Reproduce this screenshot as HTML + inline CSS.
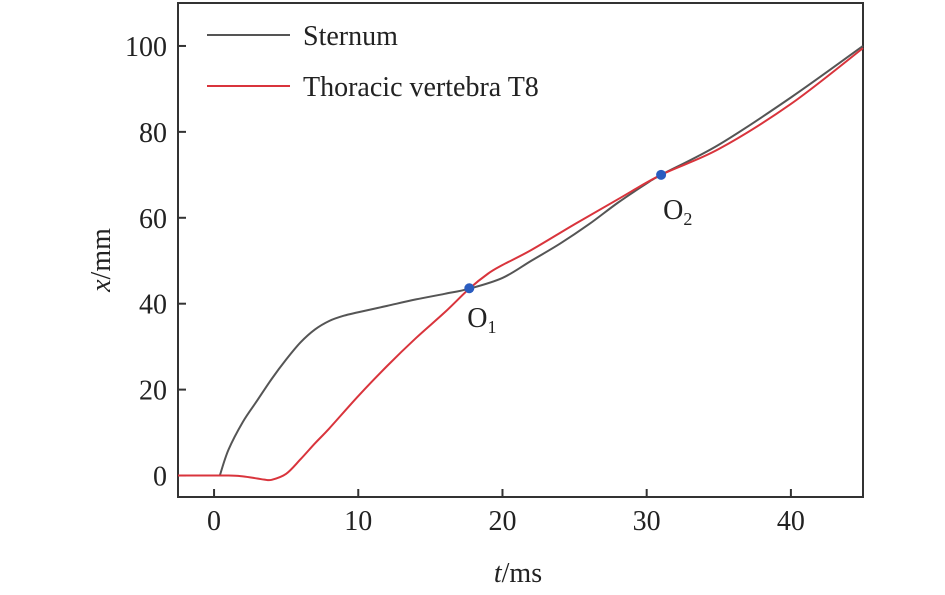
<!DOCTYPE html>
<html><head><meta charset="utf-8"><style>
body{margin:0;background:#fff}
svg text{font-family:"Liberation Serif",serif;fill:#222}
</style></head><body>
<svg width="945" height="590" xmlns="http://www.w3.org/2000/svg" id="c"></svg>
<script>
const xTicks=[0,10,20,30,40];
const yTicks=[0,20,40,60,80,100];
const sternumT=[0.4,1,2,3,4,5,6,7,8,9,10,12,14,16,17.7,20,22,24,26,28,30,31,35,40,45];
const sternumX=[0,6,12.5,17.5,22.5,27,31,34,36,37.2,38,39.5,41,42.3,43.5,46,50,54,58.5,63.5,68,70,77,88,100];
const t8T=[-2.5,1,2,3,3.5,4,5,6,7,8,10,12,14,16,17.7,19,20,22,25,28,31,35,40,45];
const t8X=[0,0,-0.2,-0.7,-0.95,-1,0.4,3.8,7.5,11,18.5,25.5,32,38,43.5,47,49,52.5,58.5,64.3,70,76,86.5,99.5];
const markT=[17.7,31], markX=[43.6,70], markLbl=["1","2"];
const X0=-2.5,X1=45,Y0=-5,Y1=110,L=178,R=863,T=3,B=497;
const sx=v=>L+(v-X0)/(X1-X0)*(R-L), sy=v=>B-(v-Y0)/(Y1-Y0)*(B-T);
const svg=document.getElementById('c');const NS="http://www.w3.org/2000/svg";
function add(tag,attrs,name,txt){const e=document.createElementNS(NS,tag);for(const k in attrs)e.setAttribute(k,attrs[k]);


if(txt!==undefined)e.textContent=txt;svg.appendChild(e);return e;}
function path(ts,xs){const p=ts.map((t,i)=>[sx(t),sy(xs[i])]);let d=`M${p[0][0]},${p[0][1]}`;
for(let i=0;i<p.length-1;i++){const a=p[Math.max(0,i-1)],b=p[i],c=p[i+1],e=p[Math.min(p.length-1,i+2)];
d+=` C${b[0]+(c[0]-a[0])/6},${b[1]+(c[1]-a[1])/6} ${c[0]-(e[0]-b[0])/6},${c[1]-(e[1]-b[1])/6} ${c[0]},${c[1]}`;}return d;}
add('rect',{x:L,y:T,width:R-L,height:B-T,fill:'none',stroke:'#333','stroke-width':2},'plot-frame');
xTicks.forEach(v=>{add('line',{x1:sx(v),x2:sx(v),y1:B,y2:B-8,stroke:'#333','stroke-width':2},'x-tick');
add('text',{x:sx(v),y:530,'font-size':28,'text-anchor':'middle'},'x-tick-label',v);});
yTicks.forEach(v=>{add('line',{x1:L,x2:L+8,y1:sy(v),y2:sy(v),stroke:'#333','stroke-width':2},'y-tick');
add('text',{x:167,y:sy(v)+10,'font-size':28,'text-anchor':'end'},'y-tick-label',v);});
const xt=add('text',{x:518,y:582,'font-size':28,'text-anchor':'middle'},'x-axis-title');xt.innerHTML='<tspan font-style="italic">t</tspan>/ms';
const yt=add('text',{x:0,y:0,'font-size':28,'text-anchor':'middle',transform:'translate(110,260) rotate(-90)'},'y-axis-title');yt.innerHTML='<tspan font-style="italic">x</tspan>/mm';
add('path',{d:path(sternumT,sternumX),fill:'none',stroke:'#555','stroke-width':2},'sternum-line');
add('path',{d:path(t8T,t8X),fill:'none',stroke:'#d9343c','stroke-width':2},'t8-line');
markT.forEach((t,i)=>{add('circle',{cx:sx(t),cy:sy(markX[i]),r:5,fill:'#2a5cbf'},'point-o'+markLbl[i]);
const tx=add('text',{x:sx(t)+(i?2:-2),y:sy(markX[i])+(i?44:39),'font-size':28},'label-o'+markLbl[i]);tx.innerHTML='O<tspan font-size="18" dy="6">'+markLbl[i]+'</tspan>';});
add('line',{x1:207,x2:290,y1:35,y2:35,stroke:'#555','stroke-width':2},'legend-sternum-swatch');
add('text',{x:303,y:45,'font-size':28},'legend-sternum-label','Sternum');
add('line',{x1:207,x2:290,y1:86,y2:86,stroke:'#d9343c','stroke-width':2},'legend-t8-swatch');
add('text',{x:303,y:96,'font-size':28},'legend-t8-label','Thoracic vertebra T8');
</script>
</body></html>
